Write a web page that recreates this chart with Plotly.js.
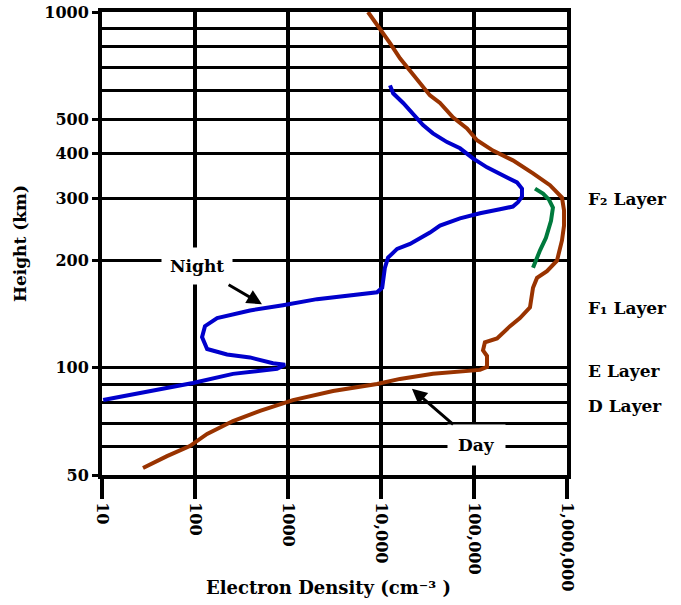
<!DOCTYPE html>
<html>
<head>
<meta charset="utf-8">
<script src="https://cdn.plot.ly/plotly-3.0.1.min.js"></script>
<style>html,body{margin:0;padding:0;background:#fff;}#chart{width:681px;height:605px;}</style>
</head>
<body>
<div id="chart"></div>
<script>
// Electron density (cm^-3) versus height (km)
const dayDensity = [7244, 9750, 12500, 16000, 19500, 26200, 33600, 43100, 59400, 84100, 107700, 160000, 262000, 431000, 656000, 883000, 929000, 929000, 883000, 780000, 609000, 476000, 431000, 400000, 312000, 244000, 205000, 177000, 131000, 125000, 138000, 138000, 116000, 36200, 16000, 9060, 3050, 1130, 500, 256, 135, 88, 50, 27.6];
const dayHeight  = [1000, 901, 818, 741, 695, 631, 583, 555, 506, 471, 436, 408, 383, 352, 326, 301, 277, 251, 228, 200, 187, 179, 168, 148, 138, 131, 126, 121, 118, 112, 108, 100.6, 98.7, 96.2, 93.1, 90.1, 86.1, 81.2, 75.7, 70.9, 65.2, 60.3, 56.5, 52.3];

const nightDensity = [12500, 13500, 17300, 22100, 28300, 36200, 51300, 70700, 97500, 138000, 205000, 290000, 328000, 328000, 297000, 262000, 190000, 116000, 70700, 43100, 33600, 26200, 20500, 14900, 11900, 11000, 10300, 9060, 4640, 2050, 883, 390, 173, 128, 119, 135, 221, 390, 690, 929, 762, 256, 95, 32.8, 10.3];
const nightHeight  = [622, 591, 555, 519, 481, 456, 431, 414, 388, 366, 347, 332, 319, 303, 292, 284, 279, 272, 263, 251, 240, 231, 223, 216, 204, 191, 168, 163, 160, 156, 150, 145, 138, 131, 122, 113, 109, 107, 103, 102, 99.4, 96.2, 90.7, 86.1, 81.2];

const greenDensity = [453000, 552000, 640000, 706000, 673000, 594000, 513000, 431000];
const greenHeight  = [319, 309, 297, 282, 259, 232, 214, 191];

const xTickVals = [10, 100, 1000, 10000, 100000, 1000000];
const xTickText = ["10", "100", "1000", "10,000", "100,000", "1,000,000"];
const yTickVals = [50, 100, 200, 300, 400, 500, 1000];
const yTickText = ["50", "100", "200", "300", "400", "500", "1000"];
const yMinorVals = [60, 70, 80, 90, 600, 700, 800, 900];

const layerLabels = ["F\u2082 Layer", "F\u2081 Layer", "E Layer", "D Layer"];
const layerHeights = [299, 147, 98, 78.2];

const FONT = "DejaVu Serif, Liberation Serif, serif";
const textFont = {family: FONT, size: 17, color: "#000", weight: "bold"};

const traces = [
  {x: dayDensity, y: dayHeight, mode: "lines", line: {color: "#993300", width: 4}, hoverinfo: "skip", name: "Day"},
  {x: nightDensity, y: nightHeight, mode: "lines", line: {color: "#0000cc", width: 4}, hoverinfo: "skip", name: "Night"},
  {x: greenDensity, y: greenHeight, mode: "lines", line: {color: "#007a3d", width: 4}, hoverinfo: "skip", name: "F2"}
];

const annotations = layerLabels.map((t, i) => ({
  text: t, xref: "paper", yref: "y", x: 1.04, y: Math.log10(layerHeights[i]),
  xanchor: "left", yanchor: "middle", showarrow: false,
  font: textFont
}));

annotations.push({
  text: "Night", xref: "x", yref: "y", x: Math.log10(525), y: Math.log10(151),
  ax: -65, ay: -38, showarrow: true, arrowhead: 2, arrowsize: 1, arrowwidth: 3, arrowcolor: "#000",
  bgcolor: "#fff", borderpad: 8, font: textFont
});
annotations.push({
  text: "Day", xref: "x", yref: "y", x: Math.log10(21500), y: Math.log10(87.3),
  ax: 65, ay: 56, showarrow: true, arrowhead: 2, arrowsize: 1, arrowwidth: 3, arrowcolor: "#000",
  bgcolor: "#fff", borderpad: 10, font: textFont
});
annotations.push({
  text: "Electron Density (cm\u207B\u00B3 )", xref: "paper", yref: "paper",
  x: 0.488, y: -0.244, xanchor: "center", yanchor: "middle", showarrow: false,
  font: {family: FONT, size: 18, color: "#000", weight: "bold"}
});

const layout = {
  width: 681, height: 605,
  margin: {l: 102, r: 114, t: 12, b: 130},
  paper_bgcolor: "#fff", plot_bgcolor: "#fff",
  showlegend: false,
  xaxis: {
    type: "log", range: [1, 6], tickmode: "array", tickvals: xTickVals, ticktext: xTickText,
    tickangle: 90, ticks: "outside", ticklen: 20, tickwidth: 4, tickcolor: "#000",
    showgrid: true, gridcolor: "#000", gridwidth: 4,
    showline: true, linecolor: "#000", linewidth: 4, mirror: true, zeroline: false,
    tickfont: {family: FONT, size: 16, color: "#000", weight: "bold"}
  },
  yaxis: {
    type: "log", range: [Math.log10(50), 3], tickmode: "array", tickvals: yTickVals, ticktext: yTickText,
    ticks: "outside", ticklen: 6, tickwidth: 3, tickcolor: "#000",
    showgrid: true, gridcolor: "#000", gridwidth: 3,
    minor: {tickmode: "array", tickvals: yMinorVals, showgrid: true, gridcolor: "#000", gridwidth: 3, ticks: ""},
    showline: true, linecolor: "#000", linewidth: 4, mirror: true, zeroline: false,
    tickfont: {family: FONT, size: 16, color: "#000", weight: "bold"},
    title: {text: "Height (km)", standoff: 14, font: {family: FONT, size: 17, color: "#000", weight: "bold"}}
  },
  annotations: annotations
};

Plotly.newPlot("chart", traces, layout, {staticPlot: true, displayModeBar: false});
</script>
</body>
</html>
